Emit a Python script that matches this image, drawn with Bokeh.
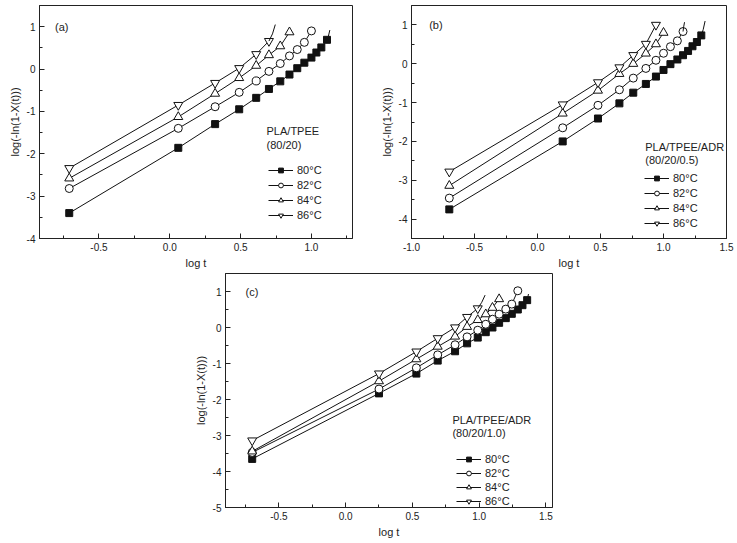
from bokeh.plotting import figure
from bokeh.layouts import column, row
from bokeh.models import (Range1d, SingleIntervalTicker, PrintfTickFormatter, Label,
                          Legend, LegendItem, Spacer)
from bokeh.embed import file_html
from bokeh.resources import INLINE

FONT = "Liberation Sans"
temps = ["80°C", "82°C", "84°C", "86°C"]
markers = ["square", "circle", "triangle", "inverted_triangle"]
msizes = [7, 8, 9, 9]

# ---------------- panel (a) PLA/TPEE (80/20) ----------------
xa = [-0.71, 0.06, 0.32, 0.49, 0.61, 0.70, 0.78, 0.845, 0.90, 0.95, 1.00, 1.035, 1.07, 1.11]
ya80 = [-3.40, -1.86, -1.30, -0.95, -0.68, -0.47, -0.29, -0.13, 0.02, 0.15, 0.27, 0.39, 0.51, 0.69]
ya82 = [-2.82, -1.40, -0.89, -0.55, -0.28, -0.055, 0.13, 0.31, 0.46, 0.63, 0.90]
ya84 = [-2.58, -1.13, -0.58, -0.21, 0.08, 0.33, 0.54, 0.87]
ya86 = [-2.34, -0.85, -0.33, 0.02, 0.35, 0.66]
tail_a80_x = [1.11, 1.12, 1.13]
tail_a80_y = [0.69, 0.78, 0.92]
tail_a86_x = [0.70, 0.725, 0.745]
tail_a86_y = [0.66, 0.83, 1.05]

# ---------------- panel (b) PLA/TPEE/ADR (80/20/0.5) ----------------
xb = [-0.70, 0.20, 0.48, 0.65, 0.76, 0.86, 0.94, 1.00, 1.055, 1.11, 1.155, 1.195, 1.23, 1.265, 1.30]
yb80 = [-3.75, -2.00, -1.41, -1.02, -0.745, -0.52, -0.33, -0.16, -0.01, 0.11, 0.22, 0.33, 0.45, 0.56, 0.73]
yb82 = [-3.46, -1.65, -1.07, -0.67, -0.37, -0.12, 0.09, 0.27, 0.44, 0.59, 0.83]
yb84 = [-3.14, -1.28, -0.69, -0.26, 0.0, 0.265, 0.505, 0.80]
yb86 = [-2.78, -1.05, -0.48, -0.095, 0.22, 0.51, 1.0]
tail_b80_x = [1.30, 1.315, 1.33]
tail_b80_y = [0.73, 0.88, 1.10]
tail_b82_x = [1.155, 1.16, 1.167]
tail_b82_y = [0.83, 0.95, 1.07]

# ---------------- panel (c) PLA/TPEE/ADR (80/20/1.0) ----------------
xc = [-0.70, 0.25, 0.53, 0.69, 0.82, 0.91, 0.99, 1.05, 1.10, 1.15, 1.20, 1.245, 1.29, 1.325, 1.36]
yc80 = [-3.65, -1.83, -1.28, -0.92, -0.66, -0.44, -0.28, -0.13, 0.0, 0.13, 0.26, 0.38, 0.50, 0.62, 0.76]
yc82 = [-3.47, -1.71, -1.12, -0.76, -0.48, -0.26, -0.075, 0.09, 0.23, 0.37, 0.51, 0.65, 1.02]
yc84 = [-3.44, -1.49, -0.88, -0.53, -0.25, 0.02, 0.21, 0.37, 0.55, 0.79]
yc86 = [-3.14, -1.28, -0.67, -0.30, 0.0, 0.29, 0.53]
tail_c80_x = [1.36, 1.365, 1.37]
tail_c80_y = [0.76, 0.84, 0.93]
tail_c86_x = [0.99, 1.02, 1.045]
tail_c86_y = [0.53, 0.70, 0.90]


def make_panel(w, h, xr, yr, borders, xs, ys_list, tails, tag, tag_xy,
               title_lines, title_x, title_ys, leg_loc, leg_spacing):
    p = figure(width=w, height=h, x_range=Range1d(*xr), y_range=Range1d(*yr),
               output_backend="svg", toolbar_location=None)
    p.min_border_left, p.min_border_right, p.min_border_top, p.min_border_bottom = borders
    p.grid.visible = False
    p.outline_line_color = "#222222"
    p.outline_line_width = 1
    p.background_fill_color = "white"
    p.border_fill_color = "white"
    p.xaxis.ticker = SingleIntervalTicker(interval=0.5, num_minor_ticks=2)
    p.yaxis.ticker = SingleIntervalTicker(interval=1, num_minor_ticks=2)
    p.xaxis.formatter = PrintfTickFormatter(format="%.1f")
    p.yaxis.formatter = PrintfTickFormatter(format="%d")
    for ax in (p.xaxis, p.yaxis):
        ax.major_tick_in = 5
        ax.major_tick_out = 0
        ax.minor_tick_in = 3
        ax.minor_tick_out = 0
        ax.axis_line_color = "#222222"
        ax.major_tick_line_color = "#222222"
        ax.minor_tick_line_color = "#222222"
        ax.major_label_text_font = FONT
        ax.major_label_text_font_size = "10px"
        ax.major_label_text_color = "#222222"
        ax.major_label_standoff = 4
        ax.axis_label_text_font = FONT
        ax.axis_label_text_font_size = "11px"
        ax.axis_label_text_font_style = "normal"
        ax.axis_label_text_color = "#222222"
        ax.axis_label_standoff = 3
    p.xaxis.axis_label = "log t"
    p.yaxis.axis_label = "log(-ln(1-X(t)))"

    items = []
    for i, ys in enumerate(ys_list):
        xx = xs[:len(ys)]
        ln = p.line(xx, ys, line_color="#111111", line_width=1)
        fill = "#111111" if i == 0 else "white"
        sc = p.scatter(xx, ys, marker=markers[i], size=msizes[i], fill_color=fill,
                       line_color="#111111", line_width=1)
        items.append(LegendItem(label=temps[i], renderers=[ln, sc]))
    for tx, ty in tails:
        p.line(tx, ty, line_color="#111111", line_width=1)

    leg = Legend(items=items, location=leg_loc, padding=0, margin=0,
                 glyph_width=25, glyph_height=12, label_height=12, spacing=leg_spacing,
                 label_standoff=4, border_line_alpha=0, background_fill_alpha=0,
                 label_text_font=FONT, label_text_font_size="11px",
                 label_text_color="#222222")
    p.add_layout(leg)

    p.add_layout(Label(x=tag_xy[0], y=tag_xy[1], text=tag, text_font=FONT,
                       text_font_size="11px", text_baseline="middle",
                       text_color="#222222"))
    for t, ty in zip(title_lines, title_ys):
        p.add_layout(Label(x=title_x, y=ty, text=t, text_font=FONT,
                           text_font_size="11px", text_baseline="middle",
                           text_color="#222222"))
    return p


pa = make_panel(370, 271, (-0.92, 1.29), (-4.0, 1.5), (39, 18, 5, 33),
                xa, [ya80, ya82, ya84, ya86],
                [(tail_a80_x, tail_a80_y), (tail_a86_x, tail_a86_y)],
                "(a)", (-0.81, 1.0), ["PLA/TPEE", "(80/20)"], 0.683, [-1.46, -1.79],
                (229, 17), 3)

pb = make_panel(367, 271, (-1.0, 1.5), (-4.5, 1.5), (41, 11, 5, 33),
                xb, [yb80, yb82, yb84, yb86],
                [(tail_b80_x, tail_b80_y), (tail_b82_x, tail_b82_y)],
                "(b)", (-0.86, 1.0), ["PLA/TPEE/ADR", "(80/20/0.5)"], 0.855, [-2.15, -2.48],
                (233, 9), 3)

pc = make_panel(378, 269, (-0.9, 1.55), (-5.0, 1.5), (39, 12, 2, 33),
                xc, [yc80, yc82, yc84, yc86],
                [(tail_c80_x, tail_c80_y), (tail_c86_x, tail_c86_y)],
                "(c)", (-0.75, 1.0), ["PLA/TPEE/ADR", "(80/20/1.0)"], 0.80, [-2.56, -2.94],
                (231, 0), 2)

layout = column(row(pa, pb), row(Spacer(width=186, height=269), pc))
open("out.html", "w").write(file_html(layout, INLINE))
